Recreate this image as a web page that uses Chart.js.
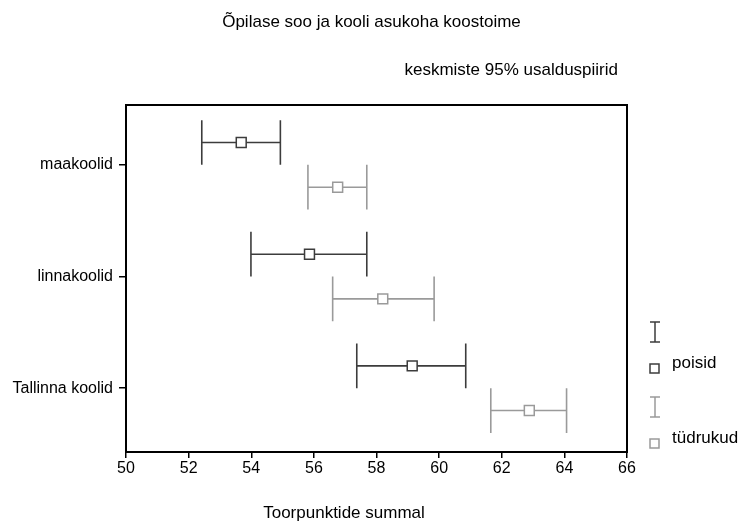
<!DOCTYPE html>
<html>
<head>
<meta charset="utf-8">
<script src="https://cdn.jsdelivr.net/npm/chart.js@4"></script>
<style>
  html, body { margin: 0; padding: 0; background: #fff; }
  #wrap { width: 743px; height: 522px; }
</style>
</head>
<body>
<div id="wrap"><canvas id="chart" width="743" height="522"></canvas></div>
<script>
// Data (means and 95% CI limits)
const categories = ['maakoolid', 'linnakoolid', 'Tallinna koolid'];
const boysMean = [53.68, 55.86, 59.14];
const boysLow = [52.42, 53.99, 57.37];
const boysHigh = [54.93, 57.69, 60.85];
const girlsMean = [56.76, 58.20, 62.88];
const girlsLow = [55.81, 56.60, 61.65];
const girlsHigh = [57.69, 59.84, 64.07];
const xTicks = [50, 52, 54, 56, 58, 60, 62, 64, 66];

const FONT = '"Liberation Sans", Arial, sans-serif';

// One entry per group; offset moves the row up/down from the category tick
const series = [
  { label: 'poisid', mean: boysMean, low: boysLow, high: boysHigh, color: '#3c3c3c', offset: -0.2 },
  { label: 'tüdrukud', mean: girlsMean, low: girlsLow, high: girlsHigh, color: '#9a9a9a', offset: 0.2 }
];

// Whiskers drawn under the mean markers
const whiskerPlugin = {
  id: 'whiskers',
  beforeDatasetsDraw(chart) {
    const { ctx, scales: { x, y } } = chart;
    series.forEach(s => {
      ctx.save();
      ctx.strokeStyle = s.color;
      ctx.lineWidth = 1.6;
      s.mean.forEach((m, i) => {
        const yc = y.getPixelForValue(i + s.offset);
        const cap = Math.abs(y.getPixelForValue(i + s.offset + 0.2) - yc);
        const x0 = x.getPixelForValue(s.low[i]);
        const x1 = x.getPixelForValue(s.high[i]);
        ctx.beginPath();
        ctx.moveTo(x0, yc); ctx.lineTo(x1, yc);
        ctx.moveTo(x0, yc - cap); ctx.lineTo(x0, yc + cap);
        ctx.moveTo(x1, yc - cap); ctx.lineTo(x1, yc + cap);
        ctx.stroke();
      });
      ctx.restore();
    });
  }
};

// Frame, titles and the legend on the right
const decorPlugin = {
  id: 'decor',
  afterDraw(chart) {
    const { ctx, chartArea: a, width } = chart;
    ctx.save();
    ctx.strokeStyle = '#000';
    ctx.lineWidth = 2;
    ctx.strokeRect(a.left, a.top, a.right - a.left, a.bottom - a.top);

    ctx.fillStyle = '#000';
    ctx.textBaseline = 'middle';
    ctx.font = '17px ' + FONT;
    ctx.textAlign = 'center';
    ctx.fillText('Õpilase soo ja kooli asukoha koostoime', width / 2, 22);
    ctx.fillText('Toorpunktide summal', 344, 513);
    ctx.textAlign = 'right';
    ctx.fillText('keskmiste 95% usalduspiirid', a.right - 9, 70);

    // legend
    ctx.textAlign = 'left';
    series.forEach((s, k) => {
      const top = 322 + k * 75;
      const lx = a.right + 28;
      ctx.strokeStyle = s.color;
      ctx.lineWidth = 1.5;
      ctx.beginPath();
      ctx.moveTo(lx, top); ctx.lineTo(lx, top + 20);
      ctx.moveTo(lx - 5, top); ctx.lineTo(lx + 5, top);
      ctx.moveTo(lx - 5, top + 20); ctx.lineTo(lx + 5, top + 20);
      ctx.stroke();
      ctx.strokeRect(lx - 5, top + 42, 9, 9);
      ctx.fillStyle = '#000';
      ctx.fillText(s.label, a.right + 45, top + 41);
    });
    ctx.restore();
  }
};

new Chart(document.getElementById('chart'), {
  type: 'scatter',
  data: {
    datasets: series.map(s => ({
      label: s.label,
      data: s.mean.map((m, i) => ({ x: m, y: i + s.offset })),
      pointStyle: 'rect',
      pointRadius: 7,
      pointHoverRadius: 7,
      borderColor: s.color,
      backgroundColor: '#fff',
      borderWidth: 1.5
    }))
  },
  options: {
    responsive: false,
    animation: false,
    devicePixelRatio: 1,
    layout: { padding: { top: 105, right: 116, bottom: 0, left: 0 } },
    plugins: {
      legend: { display: false },
      title: { display: false },
      tooltip: { enabled: false }
    },
    scales: {
      x: {
        type: 'linear',
        min: 50,
        max: 66,
        afterBuildTicks: scale => { scale.ticks = xTicks.map(v => ({ value: v })); },
        afterFit: scale => { scale.height = 70; },
        border: { display: false },
        grid: { drawOnChartArea: false, drawTicks: true, tickLength: 6, color: '#000', lineWidth: 1.5 },
        ticks: { color: '#000', padding: 1, font: { family: FONT, size: 16 }, maxRotation: 0 }
      },
      y: {
        type: 'linear',
        reverse: true,
        min: -0.536,
        max: 2.571,
        afterBuildTicks: scale => { scale.ticks = categories.map((c, i) => ({ value: i })); },
        afterFit: scale => { scale.width = 126; },
        border: { display: false },
        grid: { drawOnChartArea: false, drawTicks: true, tickLength: 7, color: '#000', lineWidth: 1.5 },
        ticks: {
          color: '#000',
          padding: 6,
          font: { family: FONT, size: 16 },
          callback: v => categories[v]
        }
      }
    }
  },
  plugins: [whiskerPlugin, decorPlugin]
});
</script>
</body>
</html>
